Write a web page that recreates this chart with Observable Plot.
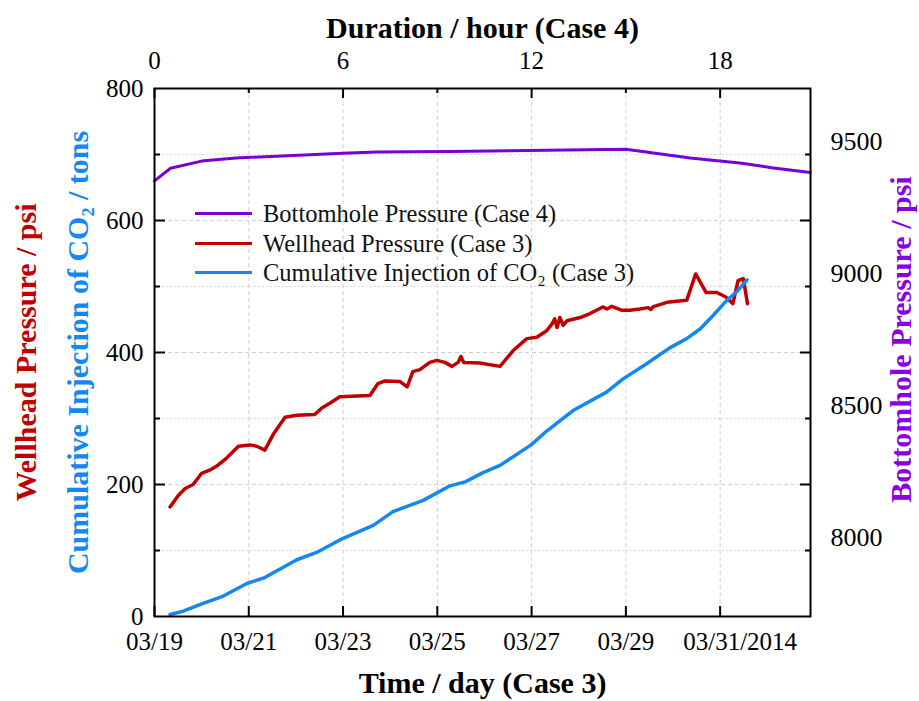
<!DOCTYPE html>
<html><head><meta charset="utf-8">
<script src="https://cdn.jsdelivr.net/npm/d3@7"></script>
<script src="https://cdn.jsdelivr.net/npm/@observablehq/plot@0.6"></script>
<style>
body{margin:0;background:#fff;}
#chart{position:relative;width:919px;height:701px;font-family:"Liberation Serif","Times New Roman",serif;}
#legend{position:absolute;left:195px;top:199px;font-size:24.5px;line-height:29.5px;color:#111;}
.item{display:flex;align-items:center;white-space:nowrap;}
.sw{width:57px;height:0;border-top:3.5px solid;margin-right:11px;}
</style></head><body><div id="chart"></div>
<script>
// ---- data ----
const startDate = "2014-03-19T00:00Z";
const endDate = "2014-04-01T22:00Z";
// Case 3 (day offsets from 03/19 00:00)
const wellDays = [0.33,0.50,0.65,0.82,1.00,1.18,1.32,1.53,1.78,2.03,2.17,2.34,2.52,2.77,3.02,3.40,3.55,3.72,3.93,4.57,4.74,4.89,5.21,5.36,5.48,5.63,5.84,5.99,6.16,6.31,6.44,6.50,6.56,6.90,7.33,7.61,7.90,8.11,8.32,8.43,8.49,8.54,8.60,8.67,8.75,9.03,9.24,9.51,9.60,9.70,9.92,10.08,10.30,10.47,10.53,10.57,10.87,11.29,11.48,11.70,11.93,12.12,12.27,12.38,12.49,12.58];
const wellPsi = [166,183,194,200,217,222,228,240,258,260,258,252,276,302,305,306,316,323,333,335,353,357,356,348,371,374,385,388,385,379,385,394,385,384,379,403,421,423,433,443,451,438,453,441,448,453,459,469,466,470,464,464,466,468,465,469,476,479,519,491,491,484,474,509,512,474];
const injDays = [0.33,0.61,0.96,1.46,1.96,2.34,3.02,3.44,3.93,4.64,5.06,5.70,6.27,6.59,6.97,7.33,7.99,8.32,8.88,9.59,9.94,10.40,10.93,11.29,11.58,11.85,12.14,12.35,12.57];
const injTons = [3,8,18,31,50,59,86,97,116,138,159,176,198,204,218,229,260,281,312,340,360,381,407,421,436,456,479,492,510];
// Case 4 (hours)
const bhHours = [0,0.51,1.5,2.59,6.0,7.09,9.41,11.86,15.0,16.23,17.05,18.69,19.64,20.87];
const bhPsi = [9350,9398,9425,9437,9455,9459,9461,9465,9470,9450,9437,9417,9400,9382];
// ticks
const dateTicks = ["2014-03-19","2014-03-21","2014-03-23","2014-03-25","2014-03-27","2014-03-29"];
const lastDateTick = "2014-03-31";
const hourTicksMajor = [0,6,12,18];
const hourTicksMinor = [3,9,15];
const leftTicks = [0,200,400,600,800];
const leftMajorInner = [200,400,600];
const leftMinor = [100,300,500,700];
const rightTicks = [8000,8500,9000,9500];
const rightDomain = [7700,9700];
const leftDomain = [0,800];

const names = ["Bottomhole Pressure (Case 4)","Wellhead Pressure (Case 3)","Cumulative Injection of CO\u2082 (Case 3)"];
const colors = ["#7700d4","#c00000","#1488f2"];

// ---- helpers ----
const t0 = new Date(startDate).getTime();
const DAY = 86400000;
const dayToDate = d => new Date(t0 + d*DAY);
const hourToDate = h => new Date(t0 + h*16*3600000); // 3 h (Case 4) spans 2 days (Case 3)
const dateToHour = d => String(Math.round((d.getTime()-t0)/(16*3600000)));
const rightToLeft = p => (p-rightDomain[0])/(rightDomain[1]-rightDomain[0])*(leftDomain[1]-leftDomain[0]);
const leftToRight = v => String(Math.round(rightDomain[0] + v/(leftDomain[1]-leftDomain[0])*(rightDomain[1]-rightDomain[0])));

const well = wellDays.map((d,i)=>({t:dayToDate(d), v:wellPsi[i]}));
const inj = injDays.map((d,i)=>({t:dayToDate(d), v:injTons[i]}));
const bh = bhHours.map((h,i)=>({t:hourToDate(h), v:rightToLeft(bhPsi[i])}));

const W=919,H=701,mL=154,mR=109,mT=88,mB=85;
const iw=W-mL-mR, ih=H-mT-mB;
const gridColor="#cfcfcf";
const allDates = [...dateTicks, lastDateTick].map(s=>new Date(s+"T00:00Z"));
const fmt = d3.utcFormat("%m/%d");

const plot = Plot.plot({
  width:W, height:H, marginLeft:mL, marginRight:mR, marginTop:mT, marginBottom:mB,
  x:{type:"utc", domain:[new Date(startDate), new Date(endDate)]},
  y:{domain:leftDomain},
  style:{fontFamily:"'Liberation Serif','Times New Roman',serif", fontSize:"25px", color:"#000", background:"#fff"},
  marks:[
    // grid
    Plot.ruleX(allDates.slice(1), {stroke:gridColor, strokeWidth:1, strokeDasharray:"4,3"}),
    Plot.ruleY(leftMajorInner, {stroke:gridColor, strokeWidth:1, strokeDasharray:"4,3"}),
    Plot.ruleY(leftMinor, {stroke:gridColor, strokeWidth:1, strokeDasharray:"1.5,2.5"}),
    // data
    Plot.line(bh, {x:"t", y:"v", stroke:colors[0], strokeWidth:3}),
    Plot.line(well, {x:"t", y:"v", stroke:colors[1], strokeWidth:3.5, strokeLinejoin:"round"}),
    Plot.line(inj, {x:"t", y:"v", stroke:colors[2], strokeWidth:3.5}),
    // frame
    Plot.frame({stroke:"#000", strokeWidth:2}),
    // inward ticks
    Plot.ruleX(allDates, {insetTop:ih-10, stroke:"#000", strokeWidth:2}),
    Plot.ruleX(hourTicksMajor.map(hourToDate), {insetBottom:ih-10, stroke:"#000", strokeWidth:2}),
    Plot.ruleX(hourTicksMinor.map(hourToDate), {insetBottom:ih-5, stroke:"#000", strokeWidth:2}),
    Plot.ruleY(leftMajorInner, {insetRight:iw-11, stroke:"#000", strokeWidth:2}),
    Plot.ruleY(leftMinor, {insetRight:iw-6, stroke:"#000", strokeWidth:2}),
    Plot.ruleY(leftMajorInner, {insetLeft:iw-10, stroke:"#000", strokeWidth:2}),
    Plot.ruleY(leftMinor, {insetLeft:iw-5, stroke:"#000", strokeWidth:2}),
    // axes labels
    Plot.axisX(allDates.slice(0,-1), {anchor:"bottom", tickSize:0, tickPadding:16, tickFormat:fmt, fontSize:25, label:null}),
    Plot.axisX([allDates[allDates.length-1]], {anchor:"bottom", tickSize:0, tickPadding:16, tickFormat:d3.utcFormat("%m/%d/%Y"), fontSize:25, dx:20, label:null}),
    Plot.axisX(hourTicksMajor.map(hourToDate), {anchor:"top", tickSize:0, tickPadding:20, tickFormat:dateToHour, fontSize:25, label:null}),
    Plot.axisY(leftTicks, {anchor:"left", tickSize:0, tickPadding:11, fontSize:25, label:null}),
    Plot.axisY(rightTicks.map(rightToLeft), {anchor:"right", tickSize:0, tickPadding:20, tickFormat:leftToRight, fontSize:26, label:null}),
    // titles
    Plot.text(["Duration / hour (Case 4)"], {frameAnchor:"top", lineAnchor:"middle", textAnchor:"middle", dy:-60, fontSize:30, fontWeight:"bold", fill:"#000"}),
    Plot.text(["Time / day (Case 3)"], {frameAnchor:"bottom", lineAnchor:"middle", textAnchor:"middle", dy:67, fontSize:30, fontWeight:"bold", fill:"#000"}),
    Plot.text(["Wellhead Pressure / psi"], {frameAnchor:"left", textAnchor:"middle", lineAnchor:"middle", rotate:-90, dx:-128, dy:0, fontSize:30, fontWeight:"bold", fill:colors[1]}),
    Plot.text(["Cumulative Injection of CO\u2082 / tons"], {frameAnchor:"left", textAnchor:"middle", lineAnchor:"middle", rotate:-90, dx:-76, dy:0, fontSize:30, fontWeight:"bold", fill:colors[2]}),
    Plot.text(["Bottomhole Pressure / psi"], {frameAnchor:"right", textAnchor:"middle", lineAnchor:"middle", rotate:-90, dx:91, dy:-13, fontSize:30, fontWeight:"bold", fill:"#8a00e6"})
  ]
});
const chart = document.getElementById("chart");
chart.appendChild(plot);
const legend = document.createElement("div");
legend.id = "legend";
names.forEach((n,i)=>{
  const it = document.createElement("div"); it.className="item";
  const sw = document.createElement("span"); sw.className="sw"; sw.style.borderTopColor = colors[i];
  const tx = document.createElement("span"); tx.textContent = n;
  it.appendChild(sw); it.appendChild(tx); legend.appendChild(it);
});
chart.appendChild(legend);
</script></body></html>
